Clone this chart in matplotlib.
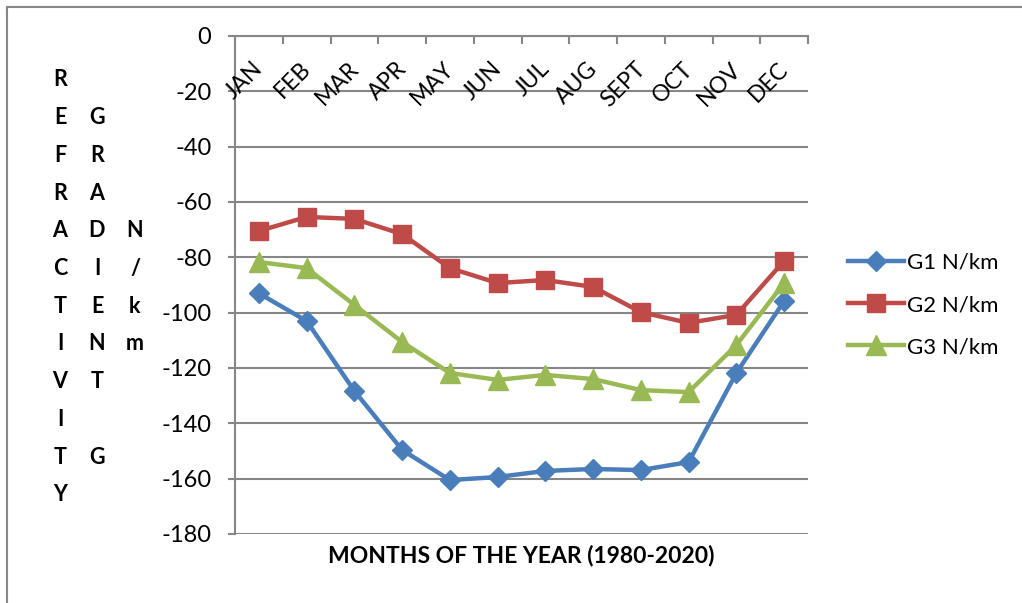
import matplotlib.pyplot as plt
from matplotlib.lines import Line2D

months = ["JAN", "FEB", "MAR", "APR", "MAY", "JUN", "JUL", "AUG", "SEPT", "OCT", "NOV", "DEC"]
g1 = [-93, -103, -128.3, -149.6, -160.5, -159.4, -157.2, -156.5, -156.9, -154, -121.8, -95.8]
g2 = [-70.5, -65.4, -66.1, -71.6, -83.9, -89.3, -88.2, -90.7, -99.8, -103.7, -100.8, -81.3]
g3 = [-81.7, -83.9, -97.2, -110.6, -121.8, -124.3, -122.5, -124, -128, -128.7, -111.7, -89.3]
series_names = ["G1 N/km", "G2 N/km", "G3 N/km"]
yticks = list(range(0, -181, -20))

plt.rcParams['font.family'] = ['Lato', 'DejaVu Sans']

W, H = 1022, 603
fig = plt.figure(figsize=(W / 100, H / 100), dpi=100)
ax = fig.add_axes([235 / W, 1 - 534 / H, (808 - 235) / W, (534 - 36) / H])

grid_col = "#868686"
x = range(len(months))
ax.plot(x, g1, color="#4A7EBB", lw=3.2, marker="D", ms=10, label=series_names[0], zorder=3)
ax.plot(x, g2, color="#BE4B48", lw=3.2, marker="s", ms=13, label=series_names[1], zorder=3)
ax.plot(x, g3, color="#98B954", lw=3.2, marker="^", ms=14, label=series_names[2], zorder=3)

ax.set_xlim(-0.5, len(months) - 0.5)
ax.set_ylim(-180, 0)
ax.set_yticks(yticks)
ax.set_yticklabels([str(v) for v in yticks])
ax.yaxis.grid(True, color=grid_col, lw=1.5)
ax.set_axisbelow(True)
for s in ["right", "bottom"]:
    ax.spines[s].set_visible(False)
for s in ["left", "top"]:
    ax.spines[s].set_color(grid_col)
    ax.spines[s].set_linewidth(1.5)

ax.tick_params(axis="y", length=5, width=1.5, color=grid_col, pad=12, labelsize=17)
# category boundaries as x ticks on the top axis
ax.xaxis.tick_top()
ax.set_xticks([i + 0.5 for i in range(len(months))])
ax.tick_params(axis="x", direction="in", length=6, width=1.5, color=grid_col, labeltop=False)

for i, m in enumerate(months):
    ax.annotate(m, (i, 0), xytext=(6, -16), textcoords="offset points",
                rotation=45, ha="right", va="top", fontsize=16.5)

fig.text((235 + 808) / 2 / W, 1 - 555 / H, "MONTHS OF THE YEAR (1980-2020)",
         ha="center", va="center", fontsize=16.5, fontweight="bold")

# stacked vertical axis title
cols = [(60, "REFRACTIVITY", 0), (97, "GRADIENT G", 1), (135, "N/km", 4)]
for cx, word, start in cols:
    for k, ch in enumerate(word):
        if ch == " ":
            continue
        cy = 80 + (start + k) * 37.7
        fig.text(cx / W, 1 - cy / H, ch, ha="center", va="center",
                 fontsize=15.5, fontweight="bold")

ax.legend(loc="center left", bbox_to_anchor=(848 / W, 1 - 305 / H),
          bbox_transform=fig.transFigure, frameon=False, fontsize=16,
          borderpad=0, borderaxespad=0,
          handlelength=2.5, handletextpad=0.15, labelspacing=1.0)

# outer chart border (left and top only visible)
fig.add_artist(Line2D([7 / W, 7 / W], [0, 1 - 7 / H], color="#888888", lw=1.5))
fig.add_artist(Line2D([7 / W, 1], [1 - 7 / H, 1 - 7 / H], color="#888888", lw=1.5))

fig.savefig("out.png", dpi=100)
